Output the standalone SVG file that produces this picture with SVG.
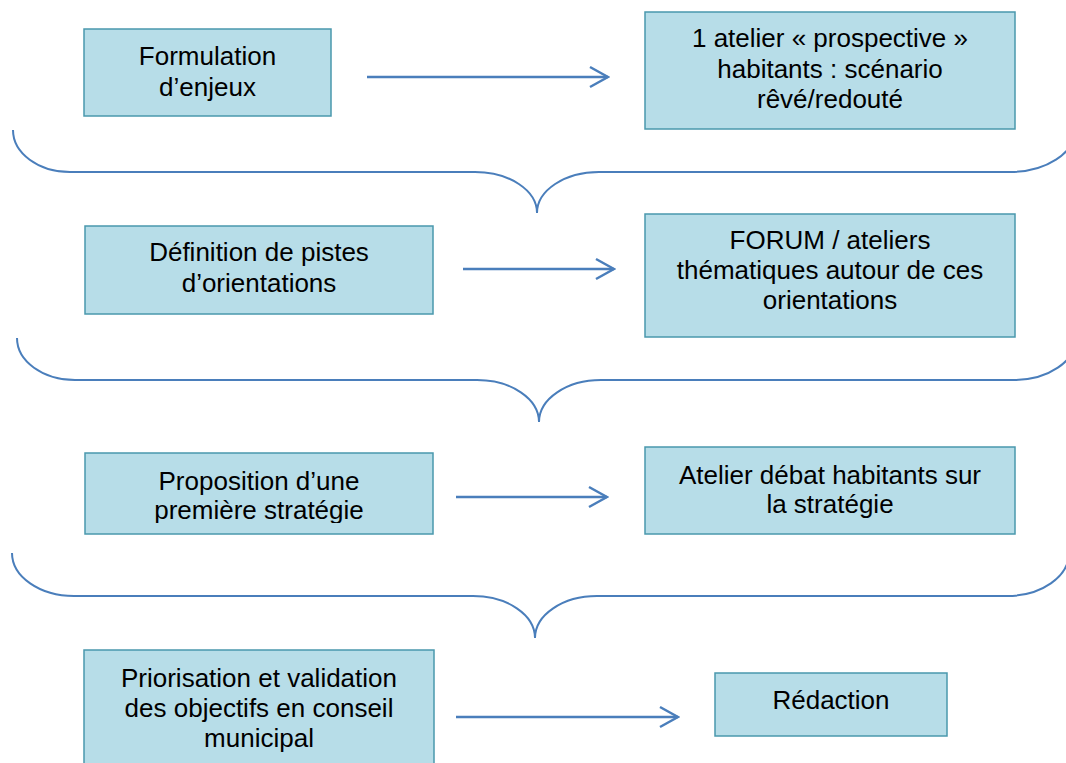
<svg xmlns="http://www.w3.org/2000/svg" width="1066" height="763" viewBox="0 0 1066 763">
<style>
.box{fill:#b7dde8;stroke:#4a98ad;stroke-width:1.5}
.t{font-family:"Liberation Sans",Arial,sans-serif;font-size:26px;fill:#000;text-anchor:middle}
.ln{fill:none;stroke:#4a7ebb;stroke-width:2.5}
.br{fill:none;stroke:#4a7ebb;stroke-width:2}
</style>
<defs>
<marker id="ah" markerUnits="userSpaceOnUse" viewBox="0 0 22 24" refX="20" refY="12" markerWidth="22" markerHeight="24" orient="auto">
<path d="M2,2 L20,12 L2,22" fill="none" stroke="#4a7ebb" stroke-width="2.5"/>
</marker>
<clipPath id="c5"><rect x="85" y="453" width="348" height="70"/></clipPath>
</defs>
<g id="n1"><rect class="box" x="84" y="29" width="247" height="87"/><text class="t" x="207.5" y="65">Formulation</text><text class="t" x="207.5" y="96">d’enjeux</text></g>
<g id="n2"><rect class="box" x="645" y="12" width="370" height="117"/><text class="t" x="830" y="47">1 atelier « prospective »</text><text class="t" x="830" y="78">habitants : scénario</text><text class="t" x="830" y="108">rêvé/redouté</text></g>
<g id="n3"><rect class="box" x="85" y="226" width="348" height="88"/><text class="t" x="259" y="261">Définition de pistes</text><text class="t" x="259" y="292">d’orientations</text></g>
<g id="n4"><rect class="box" x="645" y="214" width="370" height="123"/><text class="t" x="830" y="249">FORUM / ateliers</text><text class="t" x="830" y="279">thématiques autour de ces</text><text class="t" x="830" y="309">orientations</text></g>
<g id="n5"><rect class="box" x="85" y="453" width="348" height="81"/><g clip-path="url(#c5)"><text class="t" x="259" y="490">Proposition d’une</text><text class="t" x="259" y="519">première stratégie</text></g></g>
<g id="n6"><rect class="box" x="645" y="447" width="370" height="87"/><text class="t" x="830" y="484">Atelier débat habitants sur</text><text class="t" x="830" y="513">la stratégie</text></g>
<g id="n7"><rect class="box" x="84" y="650" width="350" height="125"/><text class="t" x="259" y="687">Priorisation et validation</text><text class="t" x="259" y="717">des objectifs en conseil</text><text class="t" x="259" y="747">municipal</text></g>
<g id="n8"><rect class="box" x="715" y="673" width="232" height="63"/><text class="t" x="831" y="709">Rédaction</text></g>
<g id="connectors">
<line class="ln" x1="367" y1="77" x2="608" y2="77" marker-end="url(#ah)"/>
<line class="ln" x1="463" y1="269" x2="614" y2="269" marker-end="url(#ah)"/>
<line class="ln" x1="456" y1="497" x2="607" y2="497" marker-end="url(#ah)"/>
<line class="ln" x1="456" y1="717" x2="678" y2="717" marker-end="url(#ah)"/>
<path class="br" d="M13,130 A57,42 0 0 0 70,172 H475 A62,41 0 0 1 537,213 A62,41 0 0 1 599,172 H1010 A65,42 0 0 0 1075,130"/>
<path class="br" d="M17,338 A58,42 0 0 0 75,380 H477 A62,42 0 0 1 539,422 A62,42 0 0 1 601,380 H1014 A62,42 0 0 0 1076,338"/>
<path class="br" d="M12,553 A62,43 0 0 0 74,596 H473 A62,42 0 0 1 535,638 A62,42 0 0 1 597,596 H1007 A62,43 0 0 0 1069,553"/>
</g>
</svg>
